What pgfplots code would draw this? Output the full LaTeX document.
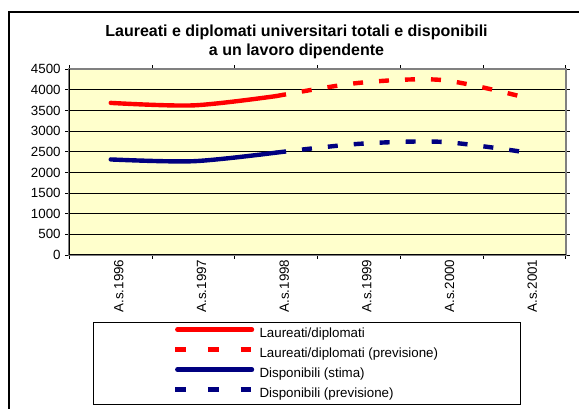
\documentclass[border=0pt]{standalone}
\usepackage{fontspec}
\setmainfont{Liberation Sans}
\usepackage{pgfplots}
\pgfplotsset{compat=1.18}
\definecolor{bgyellow}{HTML}{FFFFCC}
\definecolor{navy}{HTML}{000080}
\definecolor{framegray}{HTML}{808080}
\pgfplotsset{dashleg/.style={legend image code/.code={\draw[##1, dash pattern=on 8pt off 16.5pt] (0pt,0.3em) -- (57pt,0.3em);}}}
\begin{document}
\begin{tikzpicture}
\useasboundingbox (0,0) rectangle (434.25pt,306.75pt);
\draw[black, line width=1.1pt] (6.75pt,-2pt) -- (6.75pt,297.75pt) -- (440pt,297.75pt);
\node[font=\bfseries\fontsize{12}{14.25}\selectfont, align=center] at (222.4pt,275.6pt)
  {Laureati e diplomati universitari totali e disponibili\\a un lavoro dipendente};
\begin{axis}[
  at={(52pt,115.5pt)}, anchor=south west,
  scale only axis, width=372.3pt, height=139.3pt,
  xmin=0.5, xmax=6.5, ymin=0, ymax=4500,
  xtick={0.5,1.5,2.5,3.5,4.5,5.5,6.5}, xticklabels={},
  extra x ticks={1,2,3,4,5,6},
  extra x tick labels={A.s.1996,A.s.1997,A.s.1998,A.s.1999,A.s.2000,A.s.2001},
  extra x tick style={major tick length=0pt, tick label style={rotate=90, anchor=east, yshift=-6pt}},
  ytick={0,500,...,4500},
  ymajorgrids, grid style={black, line width=0.6pt},
  tick align=outside, major tick length=3pt,
  tick style={black, line width=0.6pt},
  axis line style={framegray, line width=1.5pt},
  axis background/.style={fill=bgyellow},
  ticklabel style={font=\fontsize{10}{12}\selectfont},
  /pgf/number format/assume math mode=true,
  yticklabel style={/pgf/number format/1000 sep={}},
  after end axis/.code={
    \draw[black, line width=0.75pt] (rel axis cs:0,1) -- (rel axis cs:0,0) -- (rel axis cs:1,0);
  },
  legend cell align=left,
  legend style={at={(0.0477,-0.3607)}, anchor=north west, draw=black, line width=0.75pt,
    inner xsep=59.6pt, inner ysep=2pt, row sep=2.25pt, column sep=2pt,
    font=\fontsize{10}{12}\selectfont},
  legend image code/.code={\draw[#1, line cap=round] (1.6pt,0.3em) -- (57.6pt,0.3em);},
]
\addplot[red, line width=3.3pt, smooth, line cap=round] coordinates {(1,3685) (2,3625) (3,3850)};
\addlegendentry{Laureati/diplomati}
\addplot[red, line width=3.3pt, smooth, dash pattern=on 7.5pt off 12pt, dashleg]
  coordinates {(3,3850) (4,4170) (5,4240) (6,3820)};
\addlegendentry{Laureati/diplomati (previsione)}
\addplot[navy, line width=3.3pt, smooth, line cap=round] coordinates {(1,2315) (2,2272) (3,2480)};
\addlegendentry{Disponibili (stima)}
\addplot[navy, line width=3.3pt, smooth, dash pattern=on 7.5pt off 12pt, dashleg]
  coordinates {(3,2480) (4,2693) (5,2741) (6,2492)};
\addlegendentry{Disponibili (previsione)}
\end{axis}
\end{tikzpicture}
\end{document}
